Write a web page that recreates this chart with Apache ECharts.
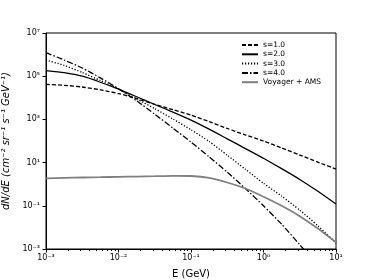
<!DOCTYPE html>
<html>
<head>
<meta charset="utf-8">
<script src="https://cdn.jsdelivr.net/npm/echarts@6/dist/echarts.min.js"></script>
<style>html,body{margin:0;padding:0;background:#fff}#c{width:374px;height:280px}</style>
</head>
<body>
<div id="c"></div>
<script>
// Energies (GeV), quarter-decade sampling
var energy = [1e-3, 1.778e-3, 3.162e-3, 5.623e-3, 1e-2, 1.778e-2, 3.162e-2, 5.623e-2, 0.1, 0.1778, 0.3162, 0.5623, 1, 1.778, 3.162, 5.623, 10];
var s1 = [4.17e4, 3.80e4, 3.16e4, 2.34e4, 1.58e4, 9.12e3, 5.01e3, 2.82e3, 1.58e3, 794, 380, 191, 100, 47.9, 22.4, 10.5, 5.01];
var s2 = [1.82e5, 1.45e5, 1.0e5, 5.25e4, 2.51e4, 1.12e4, 4.90e3, 2.19e3, 933, 355, 126, 44.7, 15.8, 5.25, 1.66, 0.468, 0.120];
var s3 = [5.62e5, 3.16e5, 1.48e5, 6.31e4, 2.51e4, 8.91e3, 3.16e3, 1.05e3, 331, 95.5, 22.0, 4.9, 1.10, 0.282, 0.0631, 0.0120, 0.00191];
var s4 = [1.23e6, 5.62e5, 2.40e5, 8.32e4, 2.63e4, 7.24e3, 1.74e3, 398, 89.1, 18.6, 3.63, 0.631, 0.1, 0.0141, 0.00158, 1.78e-4, 2.0e-5];
var voyAMS = [1.86, 1.95, 2.04, 2.11, 2.19, 2.26, 2.34, 2.45, 2.40, 1.95, 1.20, 0.631, 0.263, 0.1, 0.0331, 0.00891, 0.00204];
var names = ['s=1.0', 's=2.0', 's=3.0', 's=4.0', 'Voyager + AMS'];

function pairs(xs, ys) { return xs.map(function (x, i) { return [x, ys[i]]; }); }
var supMap = {'-':'\u207B','0':'\u2070','1':'\u00B9','2':'\u00B2','3':'\u00B3','4':'\u2074','5':'\u2075','6':'\u2076','7':'\u2077','8':'\u2078','9':'\u2079'};
function pow10Label(v) {
  var e = Math.round(Math.log10(v));
  var s = String(e).split('').map(function (c) { return supMap[c]; }).join('');
  return '10' + s;
}
var font = 'DejaVu Sans';
var chart = echarts.init(document.getElementById('c'));
function ser(name, data, type, color, width) {
  return {
    name: name, type: 'line', data: data, symbol: 'none', smooth: 0.2,
    lineStyle: {color: color, width: width, type: type},
    itemStyle: {color: color}, clip: true, animation: false
  };
}
chart.setOption({
  animation: false,
  grid: {left: 46, right: 38, top: 33, bottom: 31, containLabel: false, outerBoundsMode: 'none',
         show: true, borderColor: '#000', borderWidth: 1, backgroundColor: 'transparent'},
  legend: {
    orient: 'vertical', left: 236, top: 36, itemWidth: 16, itemHeight: 8, itemGap: 1.3,
    data: names, textStyle: {fontFamily: font, fontSize: 7.5, color: '#000'},
    itemStyle: {opacity: 0}
  },
  xAxis: {
    type: 'log', min: 1e-3, max: 10, logBase: 10, interval: 1,
    name: 'E (GeV)', nameLocation: 'middle', nameGap: 20,
    nameTextStyle: {fontFamily: font, fontSize: 10, color: '#000'},
    axisLine: {lineStyle: {color: '#000', width: 1}},
    axisTick: {show: true, length: 3.5, inside: false, lineStyle: {color: '#000'}},
    minorTick: {show: true, splitNumber: 9, length: 2, lineStyle: {color: '#000'}},
    splitLine: {show: false},
    axisLabel: {fontFamily: font, fontSize: 8, color: '#000', margin: 5, formatter: pow10Label}
  },
  yAxis: {
    type: 'log', min: 1e-3, max: 1e7, logBase: 10, interval: 2,
    name: 'dN/dE (cm\u207B\u00B2 sr\u207B\u00B9 s\u207B\u00B9 GeV\u207B\u00B9)', nameLocation: 'middle', nameGap: 30, nameRotate: 90,
    nameTextStyle: {fontFamily: font, fontSize: 10, fontStyle: 'italic', color: '#000'},
    axisLine: {lineStyle: {color: '#000', width: 1}},
    axisTick: {show: true, length: 3.5, lineStyle: {color: '#000'}},
    splitLine: {show: false},
    axisLabel: {fontFamily: font, fontSize: 8, color: '#000', margin: 6, formatter: pow10Label}
  },
  series: [
    ser(names[0], pairs(energy, s1), [4, 2], '#000', 1.3),
    ser(names[1], pairs(energy, s2), 'solid', '#000', 1.3),
    ser(names[2], pairs(energy, s3), [1.2, 1.8], '#000', 1.3),
    ser(names[3], pairs(energy, s4), [6, 2, 1.5, 2], '#000', 1.3),
    ser(names[4], pairs(energy, voyAMS), 'solid', '#808080', 1.8)
  ]
});
</script>
</body>
</html>
